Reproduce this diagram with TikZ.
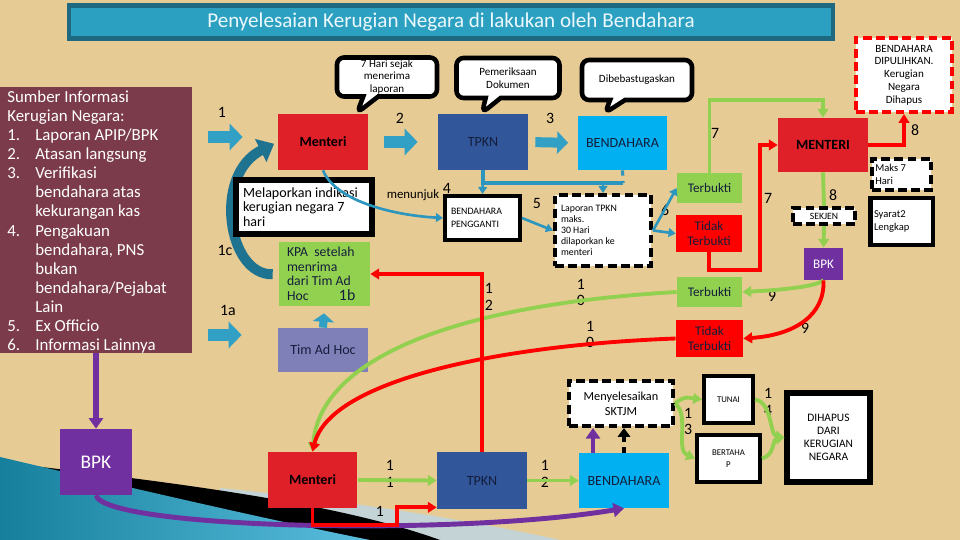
\documentclass[tikz,border=0pt]{standalone}
\usepackage{fontspec}
\setmainfont{Carlito}
\usepackage{xcolor}
\usepackage{tikz}
\usetikzlibrary{shapes.geometric, shapes.callouts, arrows.meta, positioning, calc}
\definecolor{paper}{RGB}{231,203,148}
\definecolor{titleteal}{RGB}{44,160,192}
\definecolor{titleedge}{RGB}{30,105,128}
\definecolor{infomaroon}{RGB}{123,59,75}
\definecolor{bpkpurple}{RGB}{112,48,160}
\definecolor{menred}{RGB}{224,32,40}
\definecolor{tidakred}{RGB}{255,0,0}
\definecolor{tpknblue}{RGB}{50,86,154}
\definecolor{bendblue}{RGB}{0,176,240}
\definecolor{okgreen}{RGB}{146,208,80}
\definecolor{adhocblue}{RGB}{128,128,184}
\definecolor{flowteal}{RGB}{49,160,196}
\definecolor{arcteal}{RGB}{30,115,145}
\definecolor{lineteal}{RGB}{45,150,190}
\definecolor{wavepale}{RGB}{196,212,214}
\definecolor{waveteal}{RGB}{22,128,156}
\definecolor{wavecyan}{RGB}{90,190,222}
\definecolor{textnavy}{RGB}{20,30,60}
\newcommand{\fsz}[2]{\fontsize{#1}{#2}\selectfont}

\begin{document}
\begin{tikzpicture}[
    x=0.02cm, y=-0.02cm,
    box/.style={rectangle, minimum width=1.8cm, minimum height=1.12cm, align=center, inner sep=1pt, text=textnavy, font=\fsz{8}{9.5}},
    note/.style={rectangle, draw=black, line width=2.3pt, fill=white, align=flush left, inner sep=2pt, font=\fsz{5.6}{6.4}},
    dnote/.style={note, dash pattern=on 5pt off 2.5pt},
    bubble/.style={rectangle callout, draw=black, line width=2.6pt, fill=white, rounded corners=4pt, align=center, inner sep=1pt, font=\fsz{6.3}{7.3}, callout pointer width=0.3cm},
    blockarrow/.style={-{Triangle[length=0.26cm,width=0.52cm]}, line width=0.24cm, flowteal},
    tealarrow/.style={-{Triangle[length=4pt,width=5pt]}, line width=1.5pt, lineteal},
    greenarrow/.style={-{Triangle[length=5pt,width=6pt]}, line width=2.2pt, okgreen},
    redarrow/.style={-{Triangle[length=5pt,width=6pt]}, line width=2.2pt, tidakred},
    purplearrow/.style={-{Triangle[length=6pt,width=8pt]}, line width=2.8pt, bpkpurple},
    num/.style={font=\fsz{9}{9.6}, inner sep=0pt, align=center}
]
\useasboundingbox (0,0) rectangle (960,540);
\fill[paper] (0,0) rectangle (960,540);

% wave at bottom left
\fill[wavepale] (220,488) .. controls (340,500) and (460,518) .. (560,540) -- (220,540) -- cycle;
\fill[black] (0,462) .. controls (150,480) and (330,500) .. (440,540) -- (0,540) -- cycle;
\shade[left color=waveteal, right color=wavecyan] (0,457) .. controls (140,490) and (270,520) .. (370,540) -- (0,540) -- cycle;

% Title
\node[draw=titleedge, line width=2.3pt, fill=titleteal, minimum width=15.3cm, minimum height=0.66cm, text=white!92!cyan, font=\fsz{12}{12}] (title) at (451,22) {Penyelesaian Kerugian Negara di lakukan oleh Bendahara};

% Sumber informasi
\node[fill=infomaroon, minimum width=3.84cm, minimum height=5.32cm, inner sep=0pt] (info) at (96,220) {};
\node[anchor=west, align=left, text=white, inner sep=0pt, font=\fsz{9.6}{10.86}] (infotext) at (7,222) {Sumber Informasi\\
Kerugian Negara:\\
\makebox[0.56cm][l]{1.}Laporan APIP/BPK\\
\makebox[0.56cm][l]{2.}Atasan langsung\\
\makebox[0.56cm][l]{3.}Verifikasi\\
\hspace*{0.56cm}bendahara atas\\
\hspace*{0.56cm}kekurangan kas\\
\makebox[0.56cm][l]{4.}Pengakuan\\
\hspace*{0.56cm}bendahara, PNS\\
\hspace*{0.56cm}bukan\\
\hspace*{0.56cm}bendahara/Pejabat\\
\hspace*{0.56cm}Lain\\
\makebox[0.56cm][l]{5.}Ex Officio\\
\makebox[0.56cm][l]{6.}Informasi Lainnya};
\node[fill=bpkpurple, minimum width=1.44cm, minimum height=1.32cm, text=white, font=\fsz{11}{12}] (bpkL) at (96,462) {BPK};

% Bubbles
\node[bubble, minimum width=2cm, minimum height=0.78cm, callout absolute pointer={(357,113)}] (bubHari) at (387,77) {7 Hari sejak\\menerima\\laporan};
\node[bubble, minimum width=2.06cm, minimum height=0.8cm, callout absolute pointer={(482,113)}] (bubPeriksa) at (508,78) {Pemeriksaan\\Dokumen};
\node[bubble, minimum width=2.2cm, minimum height=0.8cm, callout absolute pointer={(605,113)}] (bubBebas) at (637,80) {Dibebastugaskan};

% Top row
\node[box, fill=menred, text=black, font=\fsz{8}{9}\bfseries] (menteriA) at (323,142) {Menteri};
\node[box, fill=tpknblue] (tpknA) at (483,142) {TPKN};
\node[box, fill=bendblue, minimum height=1.08cm] (bendA) at (622.5,143) {BENDAHARA};
\node[box, fill=menred, minimum height=1.08cm, text=black, font=\fsz{8}{9}\bfseries] (menteriR) at (823,145) {MENTERI};

\node[dnote, draw=tidakred, minimum width=1.92cm, minimum height=1.48cm, align=center, font=\fsz{6.3}{7.3}] (pulih) at (904,75) {BENDAHARA\\DIPULIHKAN.\\Kerugian\\Negara\\Dihapus};
\node[dnote, text width=1.05cm, minimum height=0.62cm, font=\fsz{6}{7}] (maks) at (901.5,174.5) {Maks 7\\Hari};
\node[note, text width=1.1cm, minimum height=0.94cm, font=\fsz{6}{7.3}] (syarat) at (901.5,221.5) {Syarat2\\Lengkap};
\node[dnote, minimum width=1.24cm, minimum height=0.32cm, inner sep=0pt, align=center, font=\fsz{5.5}{6}] (sekjen) at (824,216) {SEKJEN};
\node[fill=bpkpurple, minimum width=0.78cm, minimum height=0.64cm, text=white, font=\fsz{7.5}{8}] (bpkR) at (823.5,264) {BPK};

\node[box, fill=okgreen, minimum width=1.3cm, minimum height=0.6cm, font=\fsz{7.5}{8.5}] (terbuktiA) at (709.5,188) {Terbukti};
\node[box, fill=tidakred, minimum width=1.32cm, minimum height=0.74cm, font=\fsz{7.5}{8.5}] (tidakA) at (709,233.5) {Tidak\\Terbukti};
\node[box, fill=okgreen, minimum width=1.3cm, minimum height=0.6cm, font=\fsz{7.5}{8.5}] (terbuktiB) at (709.5,292) {Terbukti};
\node[box, fill=tidakred, minimum width=1.34cm, minimum height=0.74cm, font=\fsz{7.5}{8.5}] (tidakB) at (709.5,338.5) {Tidak\\Terbukti};

\node[dnote, inner xsep=0.12cm, text width=1.68cm, minimum height=1.42cm, font=\fsz{5.6}{6.3}] (laporan) at (603,230.5) {Laporan TPKN\\maks.\\30 Hari\\dilaporkan ke\\menteri};
\node[note, inner xsep=0.12cm, text width=1.26cm, minimum height=0.88cm, font=\fsz{5.6}{7}] (pengganti) at (482.5,218) {BENDAHARA\\PENGGANTI};

% KPA and Tim Ad Hoc
\node[box, fill=okgreen, minimum height=1.28cm, inner xsep=0.16cm, text width=1.5cm, align=flush left, font=\fsz{7.8}{8.3}] (kpa) at (324.5,274) {KPA\ \ setelah\\menrima\\dari Tim Ad\\\makebox[1.04cm][l]{Hoc}{\fsz{9}{9}1b}};
\node[box, fill=adhocblue, minimum height=0.88cm] (adhoc) at (323,350) {Tim Ad Hoc};

% Curved arrow 1c, under the note
\draw[-{Triangle[length=0.3cm,width=0.5cm]}, line width=0.2cm, arcteal, shorten <=0.12cm, shorten >=0.08cm] (kpa.west) .. controls (228,276) and (212,175) .. (menteriA.west);
\node[note, line width=3pt, inner xsep=0.14cm, text width=2.44cm, minimum height=1.08cm, font=\fsz{8}{8.3}] (melapor) at (304,207) {Melaporkan indikasi\\kerugian negara 7\\hari};

% Bottom row
\node[box, fill=menred, text=black, font=\fsz{8}{9}\bfseries] (menteriB) at (312.5,480) {Menteri};
\node[box, fill=tpknblue, minimum height=1.14cm] (tpknB) at (482,480.5) {TPKN};
\node[box, fill=bendblue, minimum height=1.1cm] (bendB) at (624,480.5) {BENDAHARA};
\node[dnote, minimum width=2.08cm, minimum height=0.9cm, align=center, font=\fsz{7}{8.3}] (sktjm) at (621,403.5) {Menyelesaikan\\SKTJM};
\node[note, minimum width=0.98cm, minimum height=0.94cm, align=center, font=\fsz{5}{6}] (tunai) at (728.5,399.5) {TUNAI};
\node[note, minimum width=1.26cm, minimum height=0.94cm, align=center, font=\fsz{5}{7}] (bertahap) at (728.5,458.5) {BERTAHA\\P};
\node[note, line width=3pt, minimum width=1.66cm, minimum height=1.78cm, align=center, font=\fsz{6.5}{7.4}] (dihapus) at (828.5,437.5) {DIHAPUS\\DARI\\KERUGIAN\\NEGARA};

% Numbers
\node[num] (n1) at (222,112) {1};
\node[num] (n2) at (400,118) {2};
\node[num] (n3) at (550,118) {3};
\node[num] (n4) at (447,188) {4};
\node[num] (n5) at (537,203) {5};
\node[num] (n6) at (665,210) {6};
\node[num] (n7a) at (715,133) {7};
\node[num] (n7b) at (768,198) {7};
\node[num] (n8a) at (915,130) {8};
\node[num] (n8b) at (833,195) {8};
\node[num] (n9a) at (772,296) {9};
\node[num] (n9b) at (805,328) {9};
\node[num] (n1c) at (225,250) {1c};
\node[num] (n1a) at (228,310) {1a};
\node[num] (n10a) at (581,292.5) {1\\0};
\node[num] (n10b) at (590,334.5) {1\\0};
\node[num] (n12a) at (489,296.5) {1\\2};
\node[num] (n11a) at (390,473.5) {1\\1};
\node[num] (n12b) at (545,473.5) {1\\2};
\node[num] (n11b) at (380,520) {1\\1};
\node[num] (n13) at (688,421.5) {1\\3};
\node[num] (n14) at (768,402) {1\\4};
\node[font=\fsz{7.3}{8}, inner sep=0pt] (menunjuk) at (413,195) {menunjuk};

% Block arrows
\coordinate (in1) at (208,137);
\coordinate (in1a) at (208,335);
\draw[blockarrow, shorten >=0.7cm] (in1) -- (in1 -| menteriA.west);
\draw[blockarrow, shorten >=0.72cm] (in1a) -- (in1a -| adhoc.west);
\draw[blockarrow, shorten <=0.32cm, shorten >=0.4cm] (menteriA.east) -- (tpknA.west);
\draw[blockarrow, -{Triangle[length=0.22cm,width=0.44cm]}, line width=0.2cm, shorten <=0.14cm, shorten >=0.18cm] (tpknA.east) -- (bendA.west);
\draw[blockarrow, -{Triangle[length=0.17cm,width=0.42cm]}, line width=0.16cm, shorten >=0.14cm] (adhoc.north) -- (kpa.south);

% Sumber to BPK
\draw[purplearrow, line width=3.3pt] (info.south) -- (bpkL.north);
\draw[purplearrow] (bpkL.south) .. controls (105,528) and (450,537) .. (bendB.south);

% TPKN, Bendahara Pengganti, Laporan
\coordinate (jn) at (623,183);
\draw[tealarrow] (menteriA.south) .. controls (335,200) and (390,215) .. (pengganti.west);
\draw[lineteal, line width=1.8pt] (tpknA.south) |- (jn);
\draw[lineteal, line width=1.8pt, dashed] (bendA.south) -- (jn);
\draw[tealarrow] (tpknA.south) -- (pengganti.north);
\draw[tealarrow] (laporan.north |- jn) -- (laporan.north);
\draw[tealarrow] (pengganti.east) -- (laporan.west);
\draw[tealarrow] (laporan.east) -- (terbuktiA.west);
\draw[tealarrow] (laporan.east) -- (tidakA.west);

% 7 and 8
\coordinate (r7) at (760,270);
\draw[greenarrow] (terbuktiA.north) -- ++(0,-73) -| (menteriR.north);
\draw[redarrow] (tidakA.south) |- (r7) |- (menteriR.west);
\draw[redarrow] (menteriR.east) -| (pulih.south);
\draw[okgreen, line width=2.2pt] (menteriR.south) -- (sekjen.north);
\draw[greenarrow] (sekjen.south) -- (bpkR.north);

% 9 and 10
\draw[greenarrow] (bpkR.south) .. controls (815,287) and (780,290) .. (terbuktiB.east);
\draw[redarrow] (bpkR.south) .. controls (825,315) and (795,335) .. (tidakB.east);
\draw[greenarrow] (terbuktiB.west) .. controls (450,305) and (320,360) .. (menteriB.north);
\draw[redarrow] (tidakB.west) .. controls (500,345) and (330,380) .. (menteriB.north);
\draw[redarrow] (tpknB.north) |- (kpa.east);

% 11 to 14
\coordinate (r11) at (397,525);
\draw[greenarrow] (menteriB.east) -- (tpknB.west);
\draw[redarrow] (menteriB.south) |- (r11) |- ([yshift=0.04cm]tpknB.south west);
\draw[greenarrow] (tpknB.east) -- (bendB.west);
\draw[purplearrow, line width=2.5pt] ([xshift=-0.62cm]bendB.north) -- ([xshift=-0.62cm]bendB.north |- sktjm.south);
\draw[-{Triangle[length=5pt,width=7pt]}, line width=2.5pt, dashed, black] (bendB.north) -- (bendB.north |- sktjm.south);
\draw[greenarrow] (sktjm.east) .. controls (685,395) and (690,398) .. (tunai.west);
\draw[greenarrow] (sktjm.east) .. controls (690,415) and (675,450) .. (bertahap.west);
\draw[greenarrow] (tunai.east) .. controls (772,402) and (770,435) .. (dihapus.west);
\draw[greenarrow] (bertahap.east) .. controls (775,455) and (772,440) .. (dihapus.west);

\end{tikzpicture}
\end{document}
